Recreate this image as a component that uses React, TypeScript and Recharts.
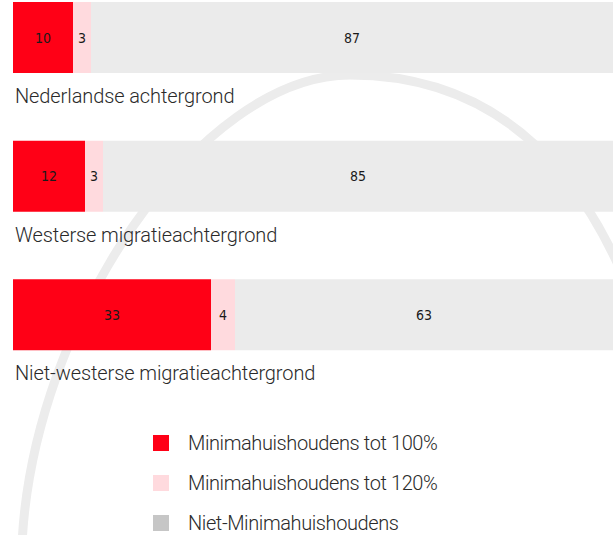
import { BarChart, Bar, XAxis, YAxis, LabelList } from 'recharts';

const categories = ['Nederlandse achtergrond', 'Westerse migratieachtergrond', 'Niet-westerse migratieachtergrond'];
const minima100 = [10, 12, 33];
const minima120 = [3, 3, 4];
const nietMinima = [87, 85, 63];

const seriesNames = ['Minimahuishoudens tot 100%', 'Minimahuishoudens tot 120%', 'Niet-Minimahuishoudens'];
const barColors = ['#ff0016', '#ffdade', '#ebebeb'];
const legendColors = ['#ff0016', '#ffdade', '#c6c6c6'];

const data = categories.map((name, i) => ({
  name,
  m100: minima100[i],
  m120: minima120[i],
  niet: nietMinima[i],
}));

const textFont = 'Roboto, sans-serif';
const numFont = '"Liberation Sans Narrow", "DejaVu Sans Condensed", sans-serif';

function CategoryLabel(props: any) {
  const { x, y, height, value } = props;
  return (
    <text
      x={x + 2}
      y={y + height + 30}
      fill="#2a2a2a"
      fontSize={20}
      fontWeight={300}
      letterSpacing={-0.1}
      fontFamily={textFont}
    >
      {value}
    </text>
  );
}

function ValueLabel(props: any) {
  const { x, y, width, height, value } = props;
  return (
    <text
      x={x + width / 2}
      y={y + height / 2}
      dy={5}
      textAnchor="middle"
      fill="#1a1a1a"
      fontSize={14}
      fontFamily={numFont}
    >
      {value}
    </text>
  );
}

export default function App() {
  return (
    <div style={{ position: 'absolute', left: 0, top: 0, width: 613, height: 535, overflow: 'hidden', background: '#fff' }}>
      <svg width={613} height={535} style={{ position: 'absolute', left: 0, top: 0 }}>
        <path
          d="M 22 545 C 32 320, 200 75, 350 75 C 490 75, 585 160, 640 320"
          fill="none"
          stroke="#ececec"
          strokeWidth={9}
        />
      </svg>
      <div style={{ position: 'absolute', left: 0, top: -32 }}>
        <BarChart
          width={613}
          height={416}
          data={data}
          layout="vertical"
          margin={{ top: 0, right: 0, bottom: 0, left: 13 }}
        >
          <XAxis type="number" domain={[0, 100]} hide />
          <YAxis type="category" dataKey="name" hide />
          <Bar dataKey="m100" stackId="a" fill={barColors[0]} barSize={71} isAnimationActive={false}>
            <LabelList dataKey="m100" content={ValueLabel} />
            <LabelList dataKey="name" content={CategoryLabel} />
          </Bar>
          <Bar dataKey="m120" stackId="a" fill={barColors[1]} barSize={71} isAnimationActive={false}>
            <LabelList dataKey="m120" content={ValueLabel} />
          </Bar>
          <Bar dataKey="niet" stackId="a" fill={barColors[2]} barSize={71} isAnimationActive={false}>
            <LabelList dataKey="niet" content={ValueLabel} />
          </Bar>
        </BarChart>
      </div>
      <div style={{ position: 'absolute', left: 153, top: 423 }}>
        {seriesNames.map((s, i) => (
          <div key={s} style={{ display: 'flex', alignItems: 'center', height: 40 }}>
            <span style={{ display: 'inline-block', width: 16, height: 16, background: legendColors[i], marginRight: 19 }} />
            <span style={{ fontFamily: textFont, fontSize: 20, fontWeight: 300, letterSpacing: -0.4, color: '#2a2a2a' }}>{s}</span>
          </div>
        ))}
      </div>
    </div>
  );
}
